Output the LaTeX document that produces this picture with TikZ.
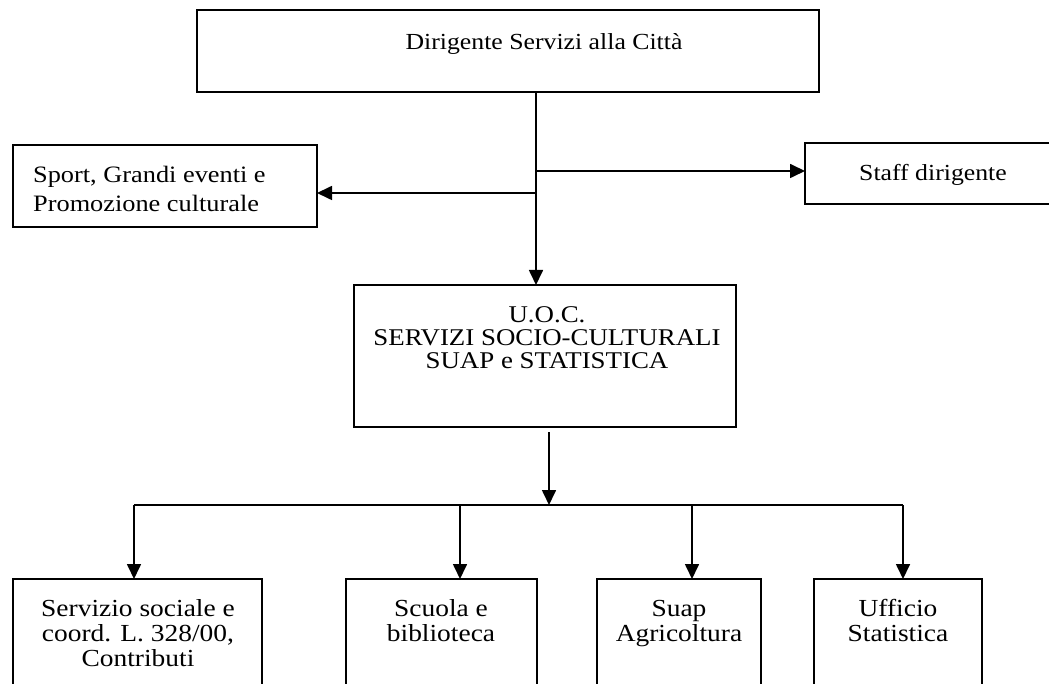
\documentclass[tikz,border=0pt]{standalone}
\usepackage{fontspec}
\setmainfont{Liberation Serif}[FakeStretch=1.12]
\usetikzlibrary{arrows.meta}
\newcommand\mystrut{\rule{0pt}{18pt}}
\begin{document}
\begin{tikzpicture}[x=1pt,y=-1pt,
  box/.style={draw, line width=1.7pt, inner sep=0pt, outer sep=0pt, anchor=north west},
  lbl/.style={font=\fontsize{23}{24.5}\selectfont, align=center, inner sep=0pt, anchor=north},
  conn/.style={line width=1.7pt},
  arr/.style={conn, -{Triangle[length=15pt,width=14pt]}}]
\useasboundingbox (0,0) rectangle (1049,684);
\clip (0,0) rectangle (1049,684);
\fill[white] (0,0) rectangle (1049,684);

% boxes
\node[box, minimum width=622pt, minimum height=82pt] (top) at (197,10) {};
\node[box, minimum width=304pt, minimum height=82pt] (sport) at (13,145) {};
\node[box, minimum width=260pt, minimum height=61pt] (staff) at (805,143) {};
\node[box, minimum width=382pt, minimum height=142pt] (mid) at (354,285) {};
\node[box, minimum width=249pt, minimum height=130pt] (s1) at (13,579) {};
\node[box, minimum width=191pt, minimum height=130pt] (s2) at (346,579) {};
\node[box, minimum width=164pt, minimum height=130pt] (s3) at (597,579) {};
\node[box, minimum width=168pt, minimum height=130pt] (s4) at (814,579) {};

% texts
\node[lbl] (toptxt) at (544,31) {\mystrut Dirigente Servizi alla Città};
\node[lbl, font=\fontsize{23.5}{29}\selectfont, align=left, anchor=north west] (sporttxt) at (33,164) {\mystrut Sport, Grandi eventi e\\Promozione culturale};
\node[lbl] (stafftxt) at (933,162) {\mystrut Staff dirigente};
\node[lbl, font=\fontsize{24}{23}\selectfont] (midtxt) at (547,304) {\mystrut U.O.C.\\SERVIZI SOCIO-CULTURALI\\SUAP e STATISTICA};
\node[lbl, font=\fontsize{24.5}{25}\selectfont] (t1) at (138,598) {\mystrut Servizio sociale e\\coord. L. 328/00,\\Contributi};
\node[lbl, font=\fontsize{24.5}{25}\selectfont] (t2) at (441,598) {\mystrut Scuola e\\biblioteca};
\node[lbl, font=\fontsize{24.5}{25}\selectfont] (t3) at (679,598) {\mystrut Suap\\Agricoltura};
\node[lbl, font=\fontsize{24.5}{25}\selectfont] (t4) at (898,598) {\mystrut Ufficio\\Statistica};

% connectors
\coordinate (jS) at (536,171);
\coordinate (jL) at (536,193);
\draw[arr] (top.south -| jS) -- (mid.north -| jS);
\draw[arr] (jS) -- (staff.west |- jS);
\draw[arr] (jL) -- (sport.east |- jL);
\coordinate (bus) at (549,505);
\draw[arr, shorten <=5pt] (mid.south -| bus) -- (bus);
\coordinate (b1) at (134,505);
\coordinate (b2) at (460,505);
\coordinate (b3) at (692,505);
\coordinate (b4) at (903,505);
\draw[conn] (b1) -- (b4);
\foreach \i in {1,...,4} \draw[arr] (b\i) -- (b\i |- s\i.north);
\end{tikzpicture}
\end{document}
